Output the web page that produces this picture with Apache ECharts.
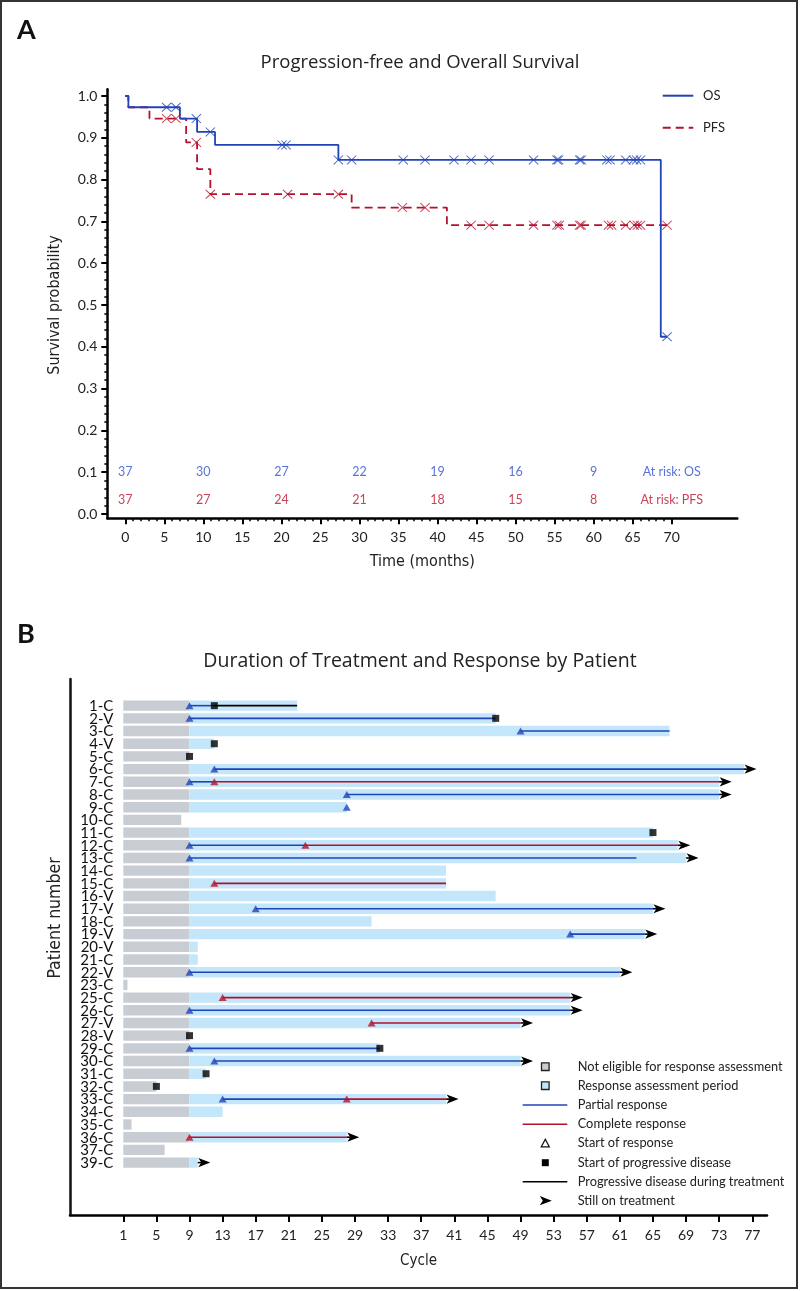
<!DOCTYPE html>
<html><head><meta charset="utf-8">
<script src="https://cdn.jsdelivr.net/npm/echarts@6/dist/echarts.min.js"></script>
<style>html,body{margin:0;padding:0;background:#fff}#c{width:802px;height:1291px}</style>
</head><body><div id="c"></div>
<script>
// ---------- Panel A data ----------
const osTimes = [0, 0.4, 7.0, 9.2, 11.5, 27.3, 68.6, 69.4];
const osSurv  = [1.0, 0.973, 0.946, 0.914, 0.883, 0.847, 0.424, 0.424];
const osCensorTimes = [5.3,6.5,9.1,10.9,20.1,20.6,27.3,29.0,35.6,38.4,42.1,44.3,46.6,52.3,55.3,55.5,58.2,58.4,61.7,62.1,64.1,65.1,65.5,66.0,69.4];
const pfsTimes = [0, 0.4, 3.1, 7.8, 9.2, 10.9, 29.0, 41.2, 69.4];
const pfsSurv  = [1.0, 0.973, 0.946, 0.889, 0.825, 0.765, 0.733, 0.691, 0.691];
const pfsCensorTimes = [5.3,6.5,9.1,10.9,20.8,27.3,35.5,38.4,44.3,46.6,52.3,55.3,55.6,58.2,58.4,61.9,62.3,64.1,65.2,65.6,66.0,69.4];
const riskTimes = [0,10,20,30,40,50,60];
const osAtRisk  = [37,30,27,22,19,16,9];
const pfsAtRisk = [37,27,24,21,18,15,8];
const xTicksA = [0,5,10,15,20,25,30,35,40,45,50,55,60,65,70];
const yTicksA = [0,0.1,0.2,0.3,0.4,0.5,0.6,0.7,0.8,0.9,1.0];
const yLabelsA = ['0.0','0.1','0.2','0.3','0.4','0.5','0.6','0.7','0.8','0.9','1.0'];

// ---------- Panel B data ----------
const patients = ['1-C','2-V','3-C','4-V','5-C','6-C','7-C','8-C','9-C','10-C','11-C','12-C','13-C','14-C','15-C','16-V','17-V','18-C','19-V','20-V','21-C','22-V','23-C','25-C','26-C','27-V','28-V','29-C','30-C','31-C','32-C','33-C','34-C','35-C','36-C','37-C','39-C'];
const treatEnd = [22,46,67,12,9,76,73,73,28,8,65,68,69,40,40,46,65,31,64,10,10,61,1.5,55,55,49,9,32,49,11,5,40,13,2,28,6,10];
const lineEnd  = [22,46,67,12,9,76,73,73,28,8,65,68,63,40,40,46,65,31,64,10,10,61,1.5,55,55,49,9,32,49,11,5,40,13,2,28,6,10];
const prStart  = [9,9,49,null,null,12,9,28,28,null,null,9,9,null,null,null,17,null,55,null,null,9,null,null,9,null,null,9,12,null,null,13,null,null,null,null,null];
const crStart  = [null,null,null,null,null,null,12,null,null,null,null,23,null,null,12,null,null,null,null,null,null,null,null,13,null,31,null,null,null,null,null,28,null,null,9,null,null];
const pdStart  = [12,46,null,12,9,null,null,null,null,null,65,null,null,null,null,null,null,null,null,null,null,null,null,null,null,null,9,32,null,11,5,null,null,null,null,null,null];
const ongoing  = [0,0,0,0,0,1,1,1,0,0,0,1,1,0,0,0,1,0,1,0,0,1,0,1,1,1,0,0,1,0,0,1,0,0,1,0,1];
const assessStart = 9;
const xTicksB = [1,5,9,13,17,21,25,29,33,37,41,45,49,53,57,61,65,69,73,77];

const BLUE = '#2043b8', RED = '#b5112d', GRAY = '#c8ccd3', LBLUE = '#c4e6fb';
const FONT = 'Lato, "Open Sans", sans-serif';
const TFONT = '"Open Sans", Lato, sans-serif';
const NARROW = '"Liberation Sans Narrow","DejaVu Sans Condensed",Lato,sans-serif';
const XPATH = 'path://M0,0.7L0.7,0L5,4.3L9.3,0L10,0.7L5.7,5L10,9.3L9.3,10L5,5.7L0.7,10L0,9.3L4.3,5Z';

function stepAt(times, surv, t){ let v = surv[0]; for (let i=0;i<times.length;i++){ if (times[i] <= t) v = surv[i]; } return v; }

const osLine = osTimes.map((t,i)=>[t, osSurv[i]]);
const pfsLine = pfsTimes.map((t,i)=>[t, pfsSurv[i]]);
const osCens = osCensorTimes.map(t=>[t, stepAt(osTimes, osSurv, t)]);
const pfsCens = pfsCensorTimes.map(t=>[t, stepAt(pfsTimes, pfsSurv, t)]);
const riskOS = riskTimes.map((t,i)=>[t, 0.1, String(osAtRisk[i])]).concat([[70, 0.1, 'At risk: OS']]);
const riskPFS = riskTimes.map((t,i)=>[t, 0.0335, String(pfsAtRisk[i])]).concat([[70, 0.0335, 'At risk: PFS']]);

const minorX = []; for (let v=1; v<70; v++) if (v%5) minorX.push(v);
const minorY = []; for (let k=1; k<50; k++) if (k%5) minorY.push(+(k*0.02).toFixed(2));

// Panel B derived
const grayBars = [], blueBars = [], prSeg = [], crSeg = [], pdSeg = [], prTri = [], crTri = [], pdSq = [], arrows = [];
patients.forEach((p,i)=>{
  grayBars.push([i, 1, Math.min(treatEnd[i], assessStart)]);
  if (treatEnd[i] > assessStart) blueBars.push([i, assessStart, treatEnd[i]]);
  if (prStart[i] != null){
    const e = crStart[i] != null ? crStart[i] : (pdStart[i] != null ? pdStart[i] : lineEnd[i]);
    prSeg.push([i, prStart[i], e]); prTri.push([prStart[i], i]);
  }
  if (crStart[i] != null){
    const e = pdStart[i] != null ? pdStart[i] : lineEnd[i];
    crSeg.push([i, crStart[i], e]); crTri.push([crStart[i], i]);
  }
  if (pdStart[i] != null){
    pdSq.push([pdStart[i], i]);
    if (lineEnd[i] > pdStart[i]) pdSeg.push([i, pdStart[i], lineEnd[i]]);
  }
  if (ongoing[i]) arrows.push([i, treatEnd[i]]);
});
const rowLabels = patients.map((p,i)=>[i, 1]);

function barItem(params, api){
  const i = api.value(0), s = api.value(1), e = api.value(2);
  const a = api.coord([s, i]), b = api.coord([e, i]);
  const h = 10.4;
  return {type:'rect', shape:{x:a[0], y:a[1]-h/2, width:b[0]-a[0], height:h}, style:{fill: api.visual('color')}};
}
function segItem(params, api){
  const i = api.value(0), s = api.value(1), e = api.value(2);
  const a = api.coord([s, i]), b = api.coord([e, i]);
  return {type:'line', shape:{x1:a[0], y1:a[1], x2:b[0], y2:b[1]}, style:{stroke: api.visual('color'), lineWidth:1.6}};
}
function arrowItem(params, api){
  const p = api.coord([api.value(1), api.value(0)]);
  const x = p[0], y = p[1];
  return {type:'group', children:[
    {type:'line', shape:{x1:x, y1:y, x2:x+4, y2:y}, style:{stroke:'#000', lineWidth:1.6}},
    {type:'polygon', shape:{points:[[x+12.5,y],[x+0.5,y-4.6],[x+3.5,y],[x+0.5,y+4.6]]}, style:{fill:'#000'}}
  ]};
}
function labelItem(params, api){
  const c = api.coord([api.value(1), api.value(0)]);
  return {type:'text', x:c[0]-10, y:c[1]+0.5, style:{text:patients[params.dataIndex], textAlign:'right', textVerticalAlign:'middle', font:'15px ' + FONT, fill:'#111'}};
}

const chart = echarts.init(document.getElementById('c'), null, {renderer:'canvas'});

const legendYs = [1066.7, 1085.7, 1105, 1124.3, 1143.3, 1162.7, 1181.7, 1200.7];
const legendTexts = ['Not eligible for response assessment','Response assessment period','Partial response','Complete response','Start of response','Start of progressive disease','Progressive disease during treatment','Still on treatment'];
const LX = 545.3;
const graphics = [
  {type:'rect', shape:{x:1, y:1, width:796, height:1287}, style:{fill:'none', stroke:'#333', lineWidth:2}},
  {type:'text', x:17, y:30, style:{text:'A', font:'bold 27px ' + FONT, fill:'#111', textVerticalAlign:'middle'}},
  {type:'text', x:17, y:634, style:{text:'B', font:'bold 27px ' + FONT, fill:'#111', textVerticalAlign:'middle'}},
  {type:'text', x:420, y:63, style:{text:'Progression-free and Overall Survival', font:'18.5px ' + TFONT, fill:'#222', textAlign:'center', textVerticalAlign:'middle'}},
  {type:'text', x:420, y:661, style:{text:'Duration of Treatment and Response by Patient', font:'19.5px ' + TFONT, fill:'#222', textAlign:'center', textVerticalAlign:'middle'}},
  {type:'text', x:55, y:305, rotation:Math.PI/2, style:{text:'Survival probability', font:'16px ' + NARROW, fill:'#222', textAlign:'center', textVerticalAlign:'middle'}},
  {type:'text', x:55, y:918, rotation:Math.PI/2, style:{text:'Patient number', font:'17.5px ' + NARROW, fill:'#222', textAlign:'center', textVerticalAlign:'middle'}},
  // panel A legend
  {type:'line', shape:{x1:662.7, y1:95.7, x2:693.3, y2:95.7}, style:{stroke:BLUE, lineWidth:2}},
  {type:'line', shape:{x1:662.7, y1:127.7, x2:693.3, y2:127.7}, style:{stroke:RED, lineWidth:2, lineDash:[8,5]}},
  {type:'text', x:703, y:95.7, style:{text:'OS', font:'13px ' + FONT, fill:'#222', textVerticalAlign:'middle'}},
  {type:'text', x:703, y:127.7, style:{text:'PFS', font:'13px ' + FONT, fill:'#222', textVerticalAlign:'middle'}},
  // panel B legend symbols
  {type:'rect', shape:{x:LX-3.8, y:legendYs[0]-3.8, width:7.6, height:7.6}, style:{fill:GRAY, stroke:'#222', lineWidth:1.3}},
  {type:'rect', shape:{x:LX-3.8, y:legendYs[1]-3.8, width:7.6, height:7.6}, style:{fill:LBLUE, stroke:'#222', lineWidth:1.3}},
  {type:'line', shape:{x1:522.7, y1:legendYs[2], x2:567.3, y2:legendYs[2]}, style:{stroke:BLUE, lineWidth:1.4}},
  {type:'line', shape:{x1:522.7, y1:legendYs[3], x2:567.3, y2:legendYs[3]}, style:{stroke:RED, lineWidth:1.4}},
  {type:'polygon', shape:{points:[[LX, legendYs[4]-4],[LX+4, legendYs[4]+3.5],[LX-4, legendYs[4]+3.5]]}, style:{fill:'#fff', stroke:'#111', lineWidth:1.3}},
  {type:'rect', shape:{x:LX-3.5, y:legendYs[5]-3.5, width:7, height:7}, style:{fill:'#000'}},
  {type:'line', shape:{x1:522.7, y1:legendYs[6], x2:567.3, y2:legendYs[6]}, style:{stroke:'#000', lineWidth:1.4}},
  {type:'polygon', shape:{points:[[LX+6.5,legendYs[7]],[LX-5.5,legendYs[7]-4.6],[LX-2.5,legendYs[7]],[LX-5.5,legendYs[7]+4.6]]}, style:{fill:'#000'}}
];
legendTexts.forEach((t,k)=>graphics.push({type:'text', x:577.7, y:legendYs[k], style:{text:t, font:'12.8px ' + FONT, fill:'#222', textVerticalAlign:'middle'}}));

const option = {
  animation:false,
  backgroundColor:'#fff',
  grid:[
    {left:107.3, top:89.3, width:630, height:429},
    {left:70, top:679, width:697, height:536}
  ],
  xAxis:[
    {type:'value', gridIndex:0, position:'bottom', min:-2.3, max:78.4, splitLine:{show:false},
     axisLine:{onZero:false, lineStyle:{color:'#000', width:2.5}},
     axisTick:{customValues:xTicksA, length:6, lineStyle:{color:'#000', width:2}},
     axisLabel:{customValues:xTicksA, fontSize:14, color:'#222', fontFamily:FONT, margin:12},
     name:'Time (months)', nameLocation:'middle', nameGap:36, nameTextStyle:{fontSize:16, color:'#222', fontFamily:NARROW}},
    {type:'value', gridIndex:0, position:'bottom', min:-2.3, max:78.4, splitLine:{show:false},
     axisLine:{show:false, onZero:false}, axisLabel:{show:false},
     axisTick:{customValues:minorX, length:3, lineStyle:{color:'#000', width:1.5}}},
    {type:'value', gridIndex:1, position:'bottom', min:-5.44, max:78.78, splitLine:{show:false},
     axisLine:{onZero:false, lineStyle:{color:'#000', width:2.5}},
     axisTick:{customValues:xTicksB, length:7, lineStyle:{color:'#000', width:2}},
     axisLabel:{customValues:xTicksB, fontSize:14, color:'#222', fontFamily:FONT, margin:13},
     name:'Cycle', nameLocation:'middle', nameGap:39, nameTextStyle:{fontSize:15, color:'#222', fontFamily:NARROW}}
  ],
  yAxis:[
    {type:'value', gridIndex:0, position:'left', min:-0.0103, max:1.016, splitLine:{show:false},
     axisLine:{onZero:false, lineStyle:{color:'#000', width:2.5}},
     axisTick:{customValues:yTicksA, length:6, lineStyle:{color:'#000', width:2}},
     axisLabel:{customValues:yTicksA, fontSize:14, color:'#222', fontFamily:FONT, margin:10,
       formatter:(v)=>yLabelsA[Math.round(v*10)]}},
    {type:'value', gridIndex:0, position:'left', min:-0.0103, max:1.016, splitLine:{show:false},
     axisLine:{show:false, onZero:false}, axisLabel:{show:false},
     axisTick:{customValues:minorY, length:3, lineStyle:{color:'#000', width:1.5}}},
    {type:'value', gridIndex:1, position:'left', inverse:true, min:-2.1, max:40.13, splitLine:{show:false},
     axisLine:{onZero:false, lineStyle:{color:'#111', width:2.5}},
     axisTick:{show:false}, axisLabel:{show:false}}
  ],
  series:[
    {type:'line', xAxisIndex:0, yAxisIndex:0, data:osLine, step:'end', symbol:'none', lineStyle:{color:BLUE, width:1.8}, z:3},
    {type:'line', xAxisIndex:0, yAxisIndex:0, data:pfsLine, step:'end', symbol:'none', lineStyle:{color:RED, width:1.8, type:[8,5]}, z:2},
    {type:'scatter', xAxisIndex:0, yAxisIndex:0, data:osCens, symbol:XPATH, symbolSize:[10,9.5], itemStyle:{color:BLUE}, z:4},
    {type:'scatter', xAxisIndex:0, yAxisIndex:0, data:pfsCens, symbol:XPATH, symbolSize:[10,9.5], itemStyle:{color:RED}, z:4},
    {type:'scatter', xAxisIndex:0, yAxisIndex:0, data:riskOS, symbolSize:0,
     label:{show:true, position:'inside', formatter:(p)=>p.value[2], color:'#2f4fd0', fontSize:12.5, fontFamily:FONT}},
    {type:'scatter', xAxisIndex:0, yAxisIndex:0, data:riskPFS, symbolSize:0,
     label:{show:true, position:'inside', formatter:(p)=>p.value[2], color:'#c0102a', fontSize:12.5, fontFamily:FONT}},
    // Panel B
    {type:'custom', xAxisIndex:2, yAxisIndex:2, data:rowLabels, encode:{x:1, y:0}, renderItem:labelItem, z:5},
    {type:'custom', xAxisIndex:2, yAxisIndex:2, data:grayBars, encode:{x:[1,2], y:0}, renderItem:barItem, itemStyle:{color:GRAY}, z:1},
    {type:'custom', xAxisIndex:2, yAxisIndex:2, data:blueBars, encode:{x:[1,2], y:0}, renderItem:barItem, itemStyle:{color:LBLUE}, z:1},
    {type:'custom', xAxisIndex:2, yAxisIndex:2, data:prSeg, encode:{x:[1,2], y:0}, renderItem:segItem, itemStyle:{color:BLUE}, z:2},
    {type:'custom', xAxisIndex:2, yAxisIndex:2, data:crSeg, encode:{x:[1,2], y:0}, renderItem:segItem, itemStyle:{color:RED}, z:2},
    {type:'custom', xAxisIndex:2, yAxisIndex:2, data:pdSeg, encode:{x:[1,2], y:0}, renderItem:segItem, itemStyle:{color:'#000'}, z:2},
    {type:'custom', xAxisIndex:2, yAxisIndex:2, data:arrows, encode:{x:1, y:0}, renderItem:arrowItem, itemStyle:{color:'#000'}, z:3},
    {type:'scatter', xAxisIndex:2, yAxisIndex:2, data:prTri, symbol:'triangle', symbolSize:[8,7], itemStyle:{color:BLUE}, z:4},
    {type:'scatter', xAxisIndex:2, yAxisIndex:2, data:crTri, symbol:'triangle', symbolSize:[8,7], itemStyle:{color:RED}, z:4},
    {type:'scatter', xAxisIndex:2, yAxisIndex:2, data:pdSq, symbol:'rect', symbolSize:7, itemStyle:{color:'#000'}, z:4}
  ],
  graphic:graphics
};
chart.setOption(option);
</script></body></html>
